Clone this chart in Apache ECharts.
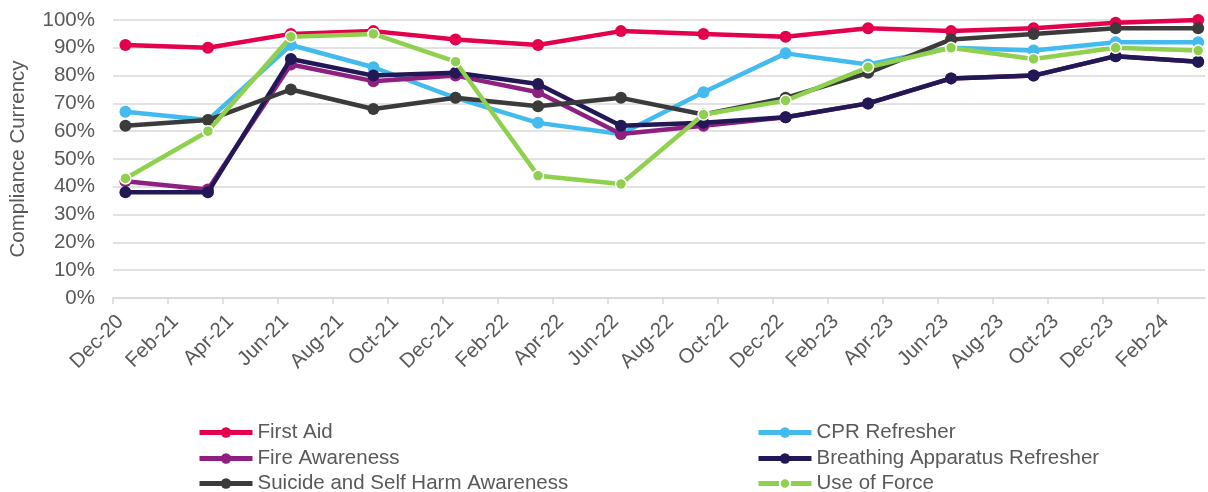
<!DOCTYPE html>
<html>
<head>
<meta charset="utf-8">
<script src="https://cdn.jsdelivr.net/npm/echarts@6/dist/echarts.min.js"></script>
<style>
html,body{margin:0;padding:0;background:#fff;}
#chart{width:1208px;height:492px;}
</style>
</head>
<body>
<div id="chart"></div>
<script>
// Observation dates (mid-month, quarterly)
const dates = ['2020-12-15','2021-03-15','2021-06-15','2021-09-15','2021-12-15','2022-03-15','2022-06-15',
               '2022-09-15','2022-12-15','2023-03-15','2023-06-15','2023-09-15','2023-12-15','2024-03-15'];
// Axis tick labels (every 2 months starting Dec-20)
const tickLabels = ['Dec-20','Feb-21','Apr-21','Jun-21','Aug-21','Oct-21','Dec-21','Feb-22','Apr-22','Jun-22',
                    'Aug-22','Oct-22','Dec-22','Feb-23','Apr-23','Jun-23','Aug-23','Oct-23','Dec-23','Feb-24'];
const seriesNames = ['First Aid','CPR Refresher','Fire Awareness','Breathing Apparatus Refresher',
                     'Suicide and Self Harm Awareness','Use of Force'];
const firstAid   = [91, 90, 95, 96, 93, 91, 96, 95, 94, 97, 96, 97, 99, 100];
const cpr        = [67, 64, 91, 83, 72, 63, 59, 74, 88, 84, 90, 89, 92, 92];
const fire       = [42, 39, 84, 78, 80, 74, 59, 62, 65, 70, 79, 80, 87, 85];
const breathing  = [38, 38, 86, 80, 81, 77, 62, 63, 65, 70, 79, 80, 87, 85];
const suicide    = [62, 64, 75, 68, 72, 69, 72, 66, 72, 81, 93, 95, 97, 97];
const useOfForce = [43, 60, 94, 95, 85, 44, 41, 66, 71, 83, 90, 86, 90, 89];

const colors = ['#E5004E','#44BBEE','#8E2080','#221855','#3B3B3B','#8FD14F'];
const values = [firstAid, cpr, fire, breathing, suicide, useOfForce];

// month offset from 1 Dec 2020
function monthIndex(s){
  const [y,m,d] = s.split('-').map(Number);
  const dim = new Date(y, m, 0).getDate();
  return (y-2020)*12 + (m-12) + (d-1)/dim;
}
const xs = dates.map(monthIndex);

const series = seriesNames.map((name,i)=>{
  const isForce = i===5;
  return {
    name: name,
    type: 'line',
    data: values[i].map((v,j)=>[xs[j], v]),
    symbol: 'circle',
    symbolSize: isForce ? 11 : 12,
    lineStyle: {width: 4.5, color: colors[i]},
    itemStyle: isForce ? {color: colors[i], borderColor:'#ffffff', borderWidth:1.5} : {color: colors[i]},
    z: 2 + i,
    animation: false
  };
});

const FONT = 'Liberation Sans, Arial, sans-serif';
const legendText = {fontFamily:FONT, fontSize:20.5, color:'#595959', lineHeight:20};
// legend layout: two columns, three rows
const legendCols = [197, 756];
const legendRowsTop = [422, 448, 473];
const legends = seriesNames.map((name,i)=>({
  data:[name], orient:'horizontal',
  left: legendCols[i%2], top: legendRowsTop[Math.floor(i/2)],
  itemWidth:53, itemHeight:13, itemGap:0, padding:0,
  lineStyle:{width:5},
  textStyle:legendText
}));

const chart = echarts.init(document.getElementById('chart'), null, {renderer:'canvas'});
chart.setOption({
  animation:false,
  grid:{left:111, right:3, top:20, bottom:194, containLabel:false},
  xAxis:{
    type:'value', min:0, max:39.7, interval:2,
    axisLine:{show:true, lineStyle:{color:'#d9d9d9', width:1.5}},
    axisTick:{show:true, length:6, lineStyle:{color:'#d9d9d9', width:1.5}},
    splitLine:{show:false},
    axisLabel:{
      rotate:45, fontSize:20.5, color:'#595959', fontFamily:FONT, margin:13,
      verticalAlign:'top',
      showMaxLabel:false,
      formatter:function(v){ const k=Math.round(v/2); return tickLabels[k]!==undefined && Math.abs(v-2*k)<1e-6 ? tickLabels[k] : ''; }
    }
  },
  yAxis:{
    type:'value', min:0, max:100, interval:10,
    name:'Compliance Currency', nameLocation:'middle', nameGap:84,
    nameTextStyle:{fontSize:20.5, color:'#595959', fontFamily:FONT},
    axisLine:{show:false}, axisTick:{show:false},
    splitLine:{lineStyle:{color:'#d9d9d9', width:1.5}},
    axisLabel:{formatter:'{value}%', fontSize:20.5, color:'#595959', fontFamily:FONT, margin:18}
  },
  legend:legends,
  series:series
});
</script>
</body>
</html>
